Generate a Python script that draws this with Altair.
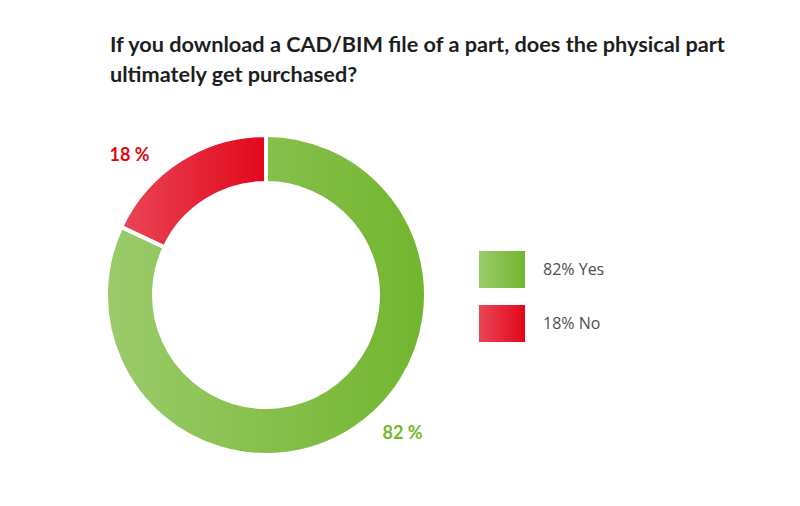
import altair as alt
import pandas as pd

title_lines = ["If you download a CAD/BIM file of a part, does the physical part",
               "ultimately get purchased?"]
answers = ["Yes", "No"]
shares = [82, 18]
slice_labels = ["82 %", "18 %"]
legend_labels = ["82% Yes", "18% No"]
order = [1, 2]

df = pd.DataFrame({"answer": answers, "share": shares, "slice_label": slice_labels,
                   "legend_label": legend_labels, "order": order})

def grad(c0, c1):
    return {"gradient": "linear", "x1": 0, "y1": 0, "x2": 1, "y2": 0,
            "stops": [{"offset": 0, "color": c0}, {"offset": 1, "color": c1}]}

green_grad = grad("#9bcb6b", "#72b52e")
red_grad = grad("#e94657", "#e2071b")
green_txt = "#76b82a"
red_txt = "#e30613"

is_yes = "datum.answer == 'Yes'"

base = alt.Chart(df).encode(
    theta=alt.Theta("share:Q", stack=True),
    order=alt.Order("order:Q"),
)

arcs = base.mark_arc(outerRadius=160, innerRadius=112, stroke="white", strokeWidth=4).encode(
    fill=alt.condition(is_yes, alt.value(green_grad), alt.value(red_grad))
)

texts = base.mark_text(radius=195, thetaOffset=-0.21, font="Lato", fontSize=18,
                       fontWeight="bold").encode(
    text="slice_label:N",
    color=alt.condition(is_yes, alt.value(green_txt), alt.value(red_txt)),
)

donut = alt.layer(arcs, texts).properties(width=340, height=330)

pin = 17 / 54
pout = pin / 2

leg_base = alt.Chart(df).encode(
    y=alt.Y("legend_label:N", sort=legend_labels, axis=None,
            scale=alt.Scale(paddingInner=pin, paddingOuter=pout)),
)
leg_rect = leg_base.mark_rect().encode(
    x=alt.value(0), x2=alt.value(46),
    fill=alt.condition(is_yes, alt.value(green_grad), alt.value(red_grad)),
)
leg_text = leg_base.mark_text(align="left", baseline="middle", font="Open Sans",
                              fontSize=16, color="#505050").encode(
    x=alt.value(64), text="legend_label:N"
)
legend = alt.layer(leg_rect, leg_text).properties(width=150, height=108)

chart = alt.hconcat(donut, legend, spacing=43, center=True).properties(
    title=alt.TitleParams(text=title_lines, anchor="start", font="Lato", fontSize=21.7,
                          fontWeight="bold", color="#1e1e1e", lineHeight=30, offset=40,
                          dx=14),
    padding={"left": 88, "top": 27, "right": 0, "bottom": 0},
).configure_view(stroke=None)

chart.save("out.html", embed_options={"renderer": "svg", "actions": False})
